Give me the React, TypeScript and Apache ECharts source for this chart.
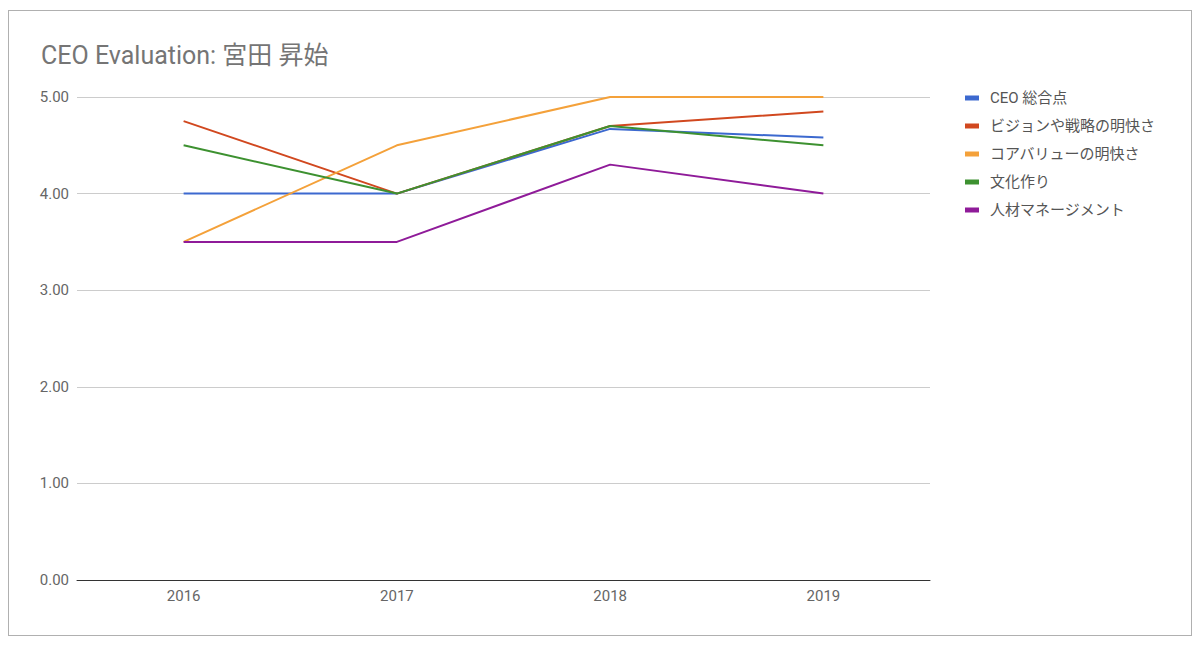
import { useEffect, useRef } from 'react';
import * as echarts from 'echarts';

const years = ['2016', '2017', '2018', '2019'];
const seriesNames = ['CEO 総合点', 'ビジョンや戦略の明快さ', 'コアバリューの明快さ', '文化作り', '人材マネージメント'];
const ceoTotal = [4.0, 4.0, 4.67, 4.58];
const visionClarity = [4.75, 4.0, 4.7, 4.85];
const coreValueClarity = [3.5, 4.5, 5.0, 5.0];
const culture = [4.5, 4.0, 4.7, 4.5];
const talentManagement = [3.5, 3.5, 4.3, 4.0];
const seriesColors = ['#3c69cf', '#d1481f', '#f4a13a', '#3d9130', '#8f1b99'];

const FONT = 'Roboto, "Noto Sans CJK JP", sans-serif';

export default function App() {
    const chartRef = useRef<HTMLDivElement>(null);

    useEffect(() => {
        if (!chartRef.current) return;
        const chart = echarts.init(chartRef.current, undefined, { renderer: 'svg' });

        const values = [ceoTotal, visionClarity, coreValueClarity, culture, talentManagement];

        const option: echarts.EChartsOption = {
            animation: false,
            backgroundColor: '#fff',
            title: {
                text: 'CEO Evaluation: 宮田 昇始',
                left: 27,
                top: 27,
                textStyle: {
                    fontFamily: FONT,
                    fontSize: 25,
                    fontWeight: 'normal',
                    color: '#757575',
                },
            },
            legend: {
                orient: 'vertical',
                left: 951,
                top: 74,
                icon: 'rect',
                itemWidth: 14,
                itemHeight: 5,
                itemGap: 12,
                textStyle: {
                    fontFamily: FONT,
                    fontSize: 15,
                    color: '#555',
                    lineHeight: 16,
                    padding: [0, 0, 0, 6],
                },
                data: seriesNames,
            },
            grid: {
                left: 68,
                right: 261,
                top: 86,
                bottom: 55,
            },
            xAxis: {
                type: 'category',
                data: years,
                boundaryGap: true,
                axisTick: { show: false },
                axisLine: { lineStyle: { color: '#333', width: 1 } },
                axisLabel: {
                    fontFamily: FONT,
                    fontSize: 15,
                    color: '#666',
                    margin: 8,
                },
            },
            yAxis: {
                type: 'value',
                min: 0,
                max: 5,
                interval: 1,
                axisLabel: {
                    fontFamily: FONT,
                    fontSize: 15,
                    color: '#666',
                    margin: 8,
                    formatter: (v: number) => v.toFixed(2),
                },
                splitLine: { lineStyle: { color: '#ccc' } },
                axisLine: { show: false },
                axisTick: { show: false },
            },
            series: seriesNames.map((name, i) => ({
                name,
                type: 'line' as const,
                data: values[i],
                color: seriesColors[i],
                showSymbol: false,
                symbol: 'none',
                lineStyle: { width: 2 },
            })),
        };

        chart.setOption(option);

        return () => {
            chart.dispose();
        };
    }, []);

    return (
        <div
            style={{
                position: 'absolute',
                left: 8,
                top: 10,
                width: 1182,
                height: 624,
                border: '1px solid #b0b0b0',
                background: '#fff',
            }}
        >
            <div ref={chartRef} style={{ width: '100%', height: '100%' }} />
        </div>
    );
}
